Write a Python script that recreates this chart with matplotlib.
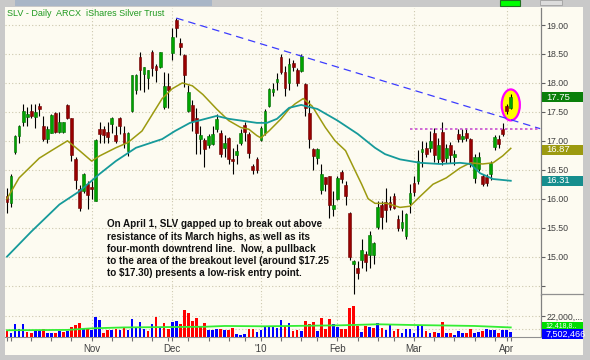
import numpy as np
import pandas as pd
import matplotlib
matplotlib.use("Agg")
import matplotlib.pyplot as plt
from matplotlib import transforms
from matplotlib.lines import Line2D
from matplotlib.patches import Ellipse, Rectangle

plt.rcParams["font.family"] = ["Liberation Sans", "DejaVu Sans"]

# SLV daily bars, 2 Oct 2009 .. 5 Apr 2010
opens = [16.05, 15.92, 16.80, 17.08, 17.32, 17.42, 17.52, 17.42, 17.60, 17.25, 17.03, 17.14, 17.48, 17.16, 17.15, 17.62, 17.39, 16.68, 16.17, 16.13, 16.25,
         16.20, 15.96, 17.20, 17.20, 17.16, 17.29, 17.10, 17.40, 17.13, 16.83, 17.52, 17.87, 18.45, 18.16, 18.08, 18.54, 18.30, 18.27, 17.58, 17.95,
         18.51, 19.09, 18.69, 18.48, 17.52, 17.62, 17.40, 17.04, 17.02, 16.92, 16.95, 17.20, 17.14, 16.88, 17.05, 16.68, 16.76, 16.97, 17.28, 17.12, 16.56, 16.68,
         17.02, 17.14, 17.60, 17.85, 18.02, 18.45, 18.18, 18.00, 18.35, 18.22, 18.20, 17.98, 17.48, 16.86, 16.70, 16.15, 16.37, 16.39, 15.83,
         16.00, 16.46, 16.23, 15.76, 14.87, 14.80, 14.95, 15.05, 15.03, 15.03, 15.52, 15.90, 15.95, 15.95, 16.05, 15.65, 15.50, 15.36, 15.92,
         16.28, 16.30, 16.80, 16.88, 16.88, 17.14, 16.68, 17.15, 16.70, 16.92, 16.72, 17.12, 17.04, 17.14, 17.03, 16.35, 16.52, 16.39, 16.38, 16.42, 16.90, 17.04, 17.20,
         17.60, 17.57]
highs = [16.18, 16.42, 17.10, 17.27, 17.64, 17.58, 17.64, 17.64, 17.65, 17.43, 17.26, 17.47, 17.50, 17.50, 17.33, 17.63, 17.39, 16.72, 16.23, 16.45, 16.30,
         16.30, 17.03, 17.32, 17.26, 17.32, 17.42, 17.26, 17.41, 17.26, 17.15, 18.14, 18.16, 18.54, 18.27, 18.23, 18.56, 18.32, 18.54, 18.18, 18.17,
         18.95, 19.12, 18.77, 18.50, 17.96, 17.70, 17.56, 17.25, 17.05, 17.12, 17.25, 17.47, 17.18, 17.10, 17.06, 16.88, 16.95, 17.20, 17.32, 17.15, 16.60, 16.72,
         17.25, 17.55, 17.92, 18.00, 18.17, 18.50, 18.30, 18.43, 18.40, 18.25, 18.50, 17.99, 17.70, 16.87, 16.88, 16.60, 16.38, 16.40, 16.13,
         16.39, 16.50, 16.30, 15.77, 14.95, 14.92, 15.30, 15.10, 15.45, 15.25, 15.96, 15.96, 16.18, 16.05, 16.10, 15.72, 15.80, 15.76, 16.25,
         16.40, 16.85, 17.00, 16.98, 17.17, 17.22, 17.05, 17.32, 16.95, 16.98, 16.85, 17.20, 17.20, 17.22, 17.05, 16.78, 16.80, 16.42, 16.42, 16.65, 17.10, 17.10, 17.30,
         17.64, 17.80]
lows = [15.75, 15.85, 16.78, 16.96, 17.26, 17.26, 17.39, 17.22, 17.43, 17.00, 16.96, 17.14, 17.13, 17.14, 17.13, 17.37, 16.65, 16.17, 15.78, 16.10, 15.82,
        16.00, 15.96, 16.97, 16.97, 16.97, 17.13, 16.97, 17.12, 16.88, 16.73, 17.50, 17.81, 17.87, 17.84, 17.90, 18.12, 18.01, 18.25, 17.55, 17.57,
        18.39, 18.80, 18.48, 17.93, 17.50, 17.17, 16.77, 16.77, 16.54, 16.88, 16.92, 17.15, 16.72, 16.72, 16.60, 16.42, 16.60, 16.93, 17.00, 16.70, 16.43, 16.45,
        17.00, 17.10, 17.58, 17.78, 17.87, 18.15, 17.78, 17.87, 18.20, 17.95, 18.18, 17.43, 16.87, 16.50, 16.60, 16.08, 16.13, 15.66, 15.70,
        15.98, 16.27, 15.90, 14.95, 14.36, 14.62, 14.80, 14.75, 14.80, 14.87, 15.48, 15.48, 15.60, 15.80, 15.82, 15.45, 15.45, 15.30, 15.75,
        16.05, 16.25, 16.55, 16.72, 16.80, 16.63, 16.62, 16.58, 16.62, 16.62, 16.58, 16.98, 16.98, 17.00, 16.55, 16.28, 16.48, 16.22, 16.22, 16.33, 16.85, 16.88, 17.08,
        17.46, 17.55]
closes = [15.95, 16.40, 17.08, 17.26, 17.52, 17.47, 17.43, 17.50, 17.55, 17.03, 17.20, 17.45, 17.15, 17.33, 17.32, 17.39, 16.76, 16.32, 15.84, 16.42, 16.07,
          16.16, 17.01, 17.12, 17.10, 17.07, 17.40, 17.00, 17.26, 16.97, 17.13, 18.13, 18.14, 18.22, 18.27, 18.23, 18.25, 18.22, 18.54, 17.94, 17.88,
          18.80, 18.95, 18.62, 18.13, 17.84, 17.35, 17.14, 17.10, 16.86, 17.09, 17.12, 17.38, 16.77, 16.97, 16.68, 16.66, 16.83, 17.13, 17.15, 16.79, 16.50, 16.50,
          17.22, 17.52, 17.89, 17.90, 18.06, 18.18, 17.92, 18.33, 18.27, 18.00, 18.47, 17.57, 17.03, 16.74, 16.86, 16.43, 16.25, 15.90, 15.90,
          16.36, 16.34, 16.05, 15.00, 14.93, 14.72, 15.12, 14.90, 15.38, 15.23, 15.85, 15.68, 15.80, 15.85, 15.84, 15.50, 15.60, 15.74, 16.10,
          16.12, 16.65, 16.86, 16.77, 17.00, 16.75, 16.92, 16.65, 16.88, 16.76, 16.78, 17.04, 17.08, 17.05, 16.60, 16.72, 16.72, 16.26, 16.28, 16.62, 17.06, 16.94, 17.12,
          17.52, 17.75]
# volume, millions of shares
volumes = [8.9, 7.4, 15.4, 11.0, 15.4, 8.0, 7.4, 9.5, 9.5, 11.0, 7.4, 7.4, 7.4, 8.6, 8.0, 8.6, 12.4, 13.9, 16.0, 11.0, 11.0,
           9.5, 21.4, 19.0, 7.4, 10.0, 10.0, 10.3, 10.0, 12.4, 9.5, 19.9, 12.4, 16.9, 11.0, 8.9, 14.8, 21.4, 12.4, 16.0, 11.0,
           16.9, 17.5, 14.8, 27.9, 24.4, 17.8, 20.5, 12.4, 16.0, 10.0, 10.0, 11.0, 11.0, 9.5, 10.0, 11.6, 6.5, 5.0, 5.9, 10.3, 11.0, 8.0,
           9.5, 13.3, 13.3, 12.4, 11.9, 19.0, 13.6, 16.0, 8.9, 10.0, 8.9, 17.8, 15.4, 16.9, 8.6, 20.8, 11.0, 19.9, 15.4,
           12.4, 11.0, 11.0, 29.4, 30.9, 13.3, 8.0, 13.3, 12.4, 11.9, 16.0, 11.6, 9.5, 13.9, 8.9, 11.0, 7.4, 11.0, 11.0,
           7.4, 14.2, 13.6, 8.9, 7.4, 8.0, 7.4, 16.9, 7.4, 7.4, 5.6, 8.9, 7.4, 7.4, 11.0, 7.4, 8.0, 8.6, 10.3, 9.5, 9.5, 7.4, 9.5,
           9.5, 7.5]

# moving averages read at a handful of bars (bar number, value)
ma20_bar = [0, 3, 8, 11, 15, 18, 21, 23, 27, 30, 33.5, 38.5, 41, 43.5, 46, 48.6, 52, 55, 58, 60, 62, 63, 65, 68, 70, 71.5, 73.5,
            75.7, 79, 81.4, 84, 86.4, 88, 89.6, 91.3, 94.3, 97.5, 100, 102.5, 105.7, 109, 112.4, 115, 118, 120.6, 123, 125]
ma20_val = [16.00, 16.36, 16.70, 16.83, 17.00, 16.83, 16.65, 16.74, 16.88, 16.97, 17.17, 17.73, 17.90, 18.00, 17.95, 17.80, 17.55,
            17.35, 17.23, 17.20, 17.09, 17.05, 17.17, 17.38, 17.55, 17.64, 17.73, 17.60, 17.23, 17.00, 16.83, 16.48, 16.25, 16.00,
            15.92, 15.92, 15.85, 15.87, 16.04, 16.25, 16.36, 16.53, 16.62, 16.60, 16.62, 16.74, 16.87]
ma50_bar = [0, 6, 13, 18, 23, 27, 32, 38.5, 41.7, 45.4, 52, 55, 62, 64.5, 67, 70, 73, 77, 82, 87, 91.3, 93.8, 97.5, 102.5,
            107.4, 112.4, 115, 117.4, 120.6, 125]
ma50_val = [15.00, 15.43, 15.90, 16.13, 16.43, 16.65, 16.88, 17.03, 17.17, 17.31, 17.43, 17.38, 17.31, 17.31, 17.38, 17.57, 17.62,
            17.55, 17.35, 17.12, 16.88, 16.77, 16.68, 16.62, 16.60, 16.62, 16.60, 16.44, 16.34, 16.31]
vol_avg_bar = [0, 15, 21, 29, 49, 54, 64, 83, 92, 100, 116, 125]
vol_avg_val = [9.5, 9.8, 11.2, 12.0, 12.6, 13.3, 13.0, 13.9, 14.8, 14.2, 13.3, 12.0]

# drawn annotations: downtrend line, March resistance, breakout ellipse
trend_bar = [42, 132.3]
trend_price = [19.12, 17.21]
resist_bar = [100, 132.3]
resist_price = [17.20, 17.20]

note_lines = [
    "On April 1, SLV gapped up to break out above",
    "resistance of its March highs, as well as its",
    "four-month downtrend line.  Now, a pullback",
    "to the area of the breakout level (around $17.25",
    "to $17.30) presents a low-risk entry point.",
]

dates = pd.bdate_range("2009-10-02", "2010-04-05")
holidays = pd.to_datetime(["2009-11-26", "2009-12-25", "2010-01-01",
                           "2010-01-18", "2010-02-15", "2010-04-02"])
dates = dates[~dates.isin(holidays)]

CREAM = "#fdfbf1"
GRID = "#cdc8ae"
W, H = 590, 360


def fx(px):
    return px / W


def fy(py):
    return 1 - py / H


o = np.array(opens)
h = np.array(highs)
l = np.array(lows)
c = np.array(closes)
v = np.array(volumes)
x = np.arange(len(c))

month_idx = [i for i in range(1, len(dates)) if dates[i].month != dates[i - 1].month]
month_lab = ["'" + dates[i].strftime("%y") if dates[i].month == 1 else dates[i].strftime("%b")
             for i in month_idx]
week_idx = [i for i in range(len(dates)) if i == 0 or dates[i].weekday() <= dates[i - 1].weekday()]

fig = plt.figure(figsize=(W / 100, H / 100), dpi=100, facecolor="#c9c9c9")
# window chrome, kept behind the axes
fig.patches.append(Rectangle((fx(5), fy(355)), (583 - 5) / W, (355 - 7) / H,
                             transform=fig.transFigure, facecolor=CREAM, edgecolor="none", zorder=-10))
fig.patches.append(Rectangle((fx(15), fy(6)), 197 / W, 6 / H, transform=fig.transFigure,
                             facecolor="#a9b6c7", edgecolor="none", zorder=-10))
fig.patches.append(Rectangle((fx(500), fy(6)), 20 / W, 6 / H, transform=fig.transFigure,
                             facecolor="#00ff00", edgecolor="#207020", lw=0.8, zorder=-10))
fig.patches.append(Rectangle((fx(540), fy(5)), 22 / W, 5 / H, transform=fig.transFigure,
                             facecolor="#dcdcdc", edgecolor="#a0a0a0", lw=0.6, zorder=-10))

ax_p = fig.add_axes([fx(5), fy(295), 536 / W, 287 / H])
ax_v = fig.add_axes([fx(5), fy(337), 536 / W, 42 / H], sharex=ax_p)
for ax in (ax_p, ax_v):
    ax.set_facecolor("none")
    for s in ("top", "left"):
        ax.spines[s].set_visible(False)
    ax.spines["right"].set_color("#808080")
    ax.spines["right"].set_linewidth(0.9)
    for i in month_idx:
        ax.axvline(i, color=GRID, lw=0.8, ls=(0, (1, 2)), zorder=1)
ax_p.spines["bottom"].set_visible(False)
ax_v.spines["bottom"].set_color("#909090")

# price panel
for p in np.arange(14.5, 19.01, 0.5):
    ax_p.axhline(p, color=GRID, lw=0.8, ls=(0, (1, 2)), zorder=1)

ax_p.add_patch(Ellipse((125, 17.62), 4.5, 0.535, facecolor="#ffff00",
                       edgecolor="#ff00ff", lw=1.6, zorder=2))
ax_p.vlines(x, l, h, color="black", lw=0.8, zorder=3)
up = c >= o
body_lo = np.minimum(o, c)
body_h = np.maximum(np.abs(c - o), 0.03)
ax_p.bar(x[up], body_h[up], bottom=body_lo[up], width=0.68, color="#00a400",
         edgecolor="#006b00", lw=0.4, zorder=4)
ax_p.bar(x[~up], body_h[~up], bottom=body_lo[~up], width=0.68, color="#990000",
         edgecolor="#6a0000", lw=0.4, zorder=4)

ax_p.plot(ma20_bar, ma20_val, color="#9c9a10", lw=1.1, zorder=5)
ax_p.plot(ma50_bar, ma50_val, color="#169a9a", lw=1.3, zorder=5)
ax_p.plot(trend_bar, trend_price, color="#3c3cff", lw=0.9, ls=(0, (6, 4)), zorder=6)
ax_p.plot(resist_bar, resist_price, color="#c850d0", lw=1.2, ls=(0, (1.5, 1.5)), zorder=6)

ax_p.set_xlim(-0.5, 132.5)
ax_p.set_ylim(14.337, 19.294)
yt = np.arange(14.5, 19.01, 0.5)
ax_p.set_yticks(yt, [""] + ["%.2f" % t for t in yt[1:]])
ax_p.yaxis.tick_right()
ax_p.tick_params(axis="y", length=3, width=0.8, color="#606060", pad=1,
                 labelsize=6.3, labelcolor="#404040")
ax_p.tick_params(axis="x", which="both", bottom=False, labelbottom=False)


def value_box(ax, val, text, color, hh, size=6.8):
    tr = transforms.blended_transform_factory(ax.transAxes, ax.transData)
    ax.add_patch(Rectangle((1.0015, val - hh / 2), 41 / 536, hh, transform=tr,
                           facecolor=color, edgecolor="none", clip_on=False, zorder=10))
    ax.text(1.0015 + 4 / 536, val, text, transform=tr, color="white", fontsize=size,
            va="center", ha="left", clip_on=False, zorder=11)


hp = 10 / 57.9
value_box(ax_p, c[-1], "%.2f" % c[-1], "#0a7f0a", hp)
value_box(ax_p, ma20_val[-1] - 0.02, "%.2f" % ma20_val[-1], "#9c9a10", hp)
value_box(ax_p, ma50_val[-1], "%.2f" % ma50_val[-1], "#168e8e", hp)

# volume panel
vcol = ["#ff0000"] + ["#0000ff" if c[i] >= c[i - 1] else "#ff0000" for i in range(1, len(c))]
for gv in (11, 22):
    ax_v.axhline(gv, color=GRID, lw=0.8, ls=(0, (1, 2)), zorder=1)
ax_v.bar(x, v, width=0.65, color=vcol, zorder=3)
ax_v.plot(vol_avg_bar, vol_avg_val, color="#33ee33", lw=1.3, zorder=4)
ax_v.set_ylim(3.5, 40.8)
ax_v.set_yticks([22], ["22,000,..."])
ax_v.yaxis.tick_right()
ax_v.tick_params(axis="y", length=3, width=0.8, color="#606060", pad=1,
                 labelsize=6.3, labelcolor="#404040")
ax_v.set_xticks(month_idx, month_lab)
ax_v.set_xticks(week_idx, minor=True)
ax_v.tick_params(axis="x", which="both", length=3, width=0.8, color="#707070")
ax_v.tick_params(axis="x", which="major", labelsize=7, labelcolor="#404040", pad=2)
value_box(ax_v, 13.6, "12,418,8..", "#00dd00", 8 / 1.118, size=5)
value_box(ax_v, 5.8, "7,502,466", "#0000ff", 10 / 1.118, size=6.5)

fig.add_artist(Line2D([fx(541), fx(583)], [fy(294), fy(294)], color="#909090", lw=0.9))

fig.text(fx(7), fy(14), "SLV - Daily  ARCX  iShares Silver Trust", color="#1f9a1f",
         fontsize=6.5, va="center", ha="left")
for k, line in enumerate(note_lines):
    fig.text(fx(107), fy(224.3 + 12.3 * k), line, fontsize=7.1, fontweight="bold",
             color="#111111", va="center", ha="left")

fig.savefig("out.png", dpi=100, facecolor=fig.get_facecolor())
